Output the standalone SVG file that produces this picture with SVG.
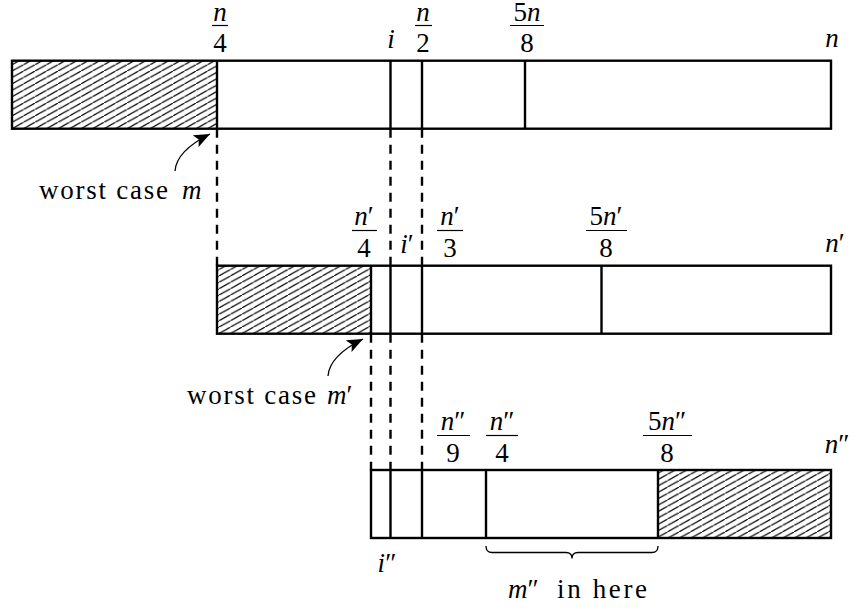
<svg xmlns="http://www.w3.org/2000/svg" width="854" height="609" viewBox="0 0 854 609">
<style>
.bar{fill:none;stroke:#000;stroke-width:2.4}
.hatch{fill:url(#hatch);stroke:none}
.div{stroke:#000;stroke-width:2.4}
.dash{stroke:#000;stroke-width:2.4;stroke-dasharray:9 7}
.fbar{stroke:#000;stroke-width:1.2}
text{font-family:"Liberation Serif","Times New Roman",serif;font-size:27px;fill:#000}
.it{font-style:italic}
.rm{font-style:normal}
.c{text-anchor:middle}
.arr{fill:none;stroke:#000;stroke-width:1.3}
</style>
<defs>
<pattern id="hatch" patternUnits="userSpaceOnUse" x="12" y="0.7" width="11.5" height="6.4">
<line x1="-2" y1="7.513" x2="13.5" y2="-1.113" stroke="#000" stroke-width="1.2"/>
</pattern>
<marker id="ah" markerUnits="userSpaceOnUse" markerWidth="17" markerHeight="13" refX="16" refY="6.5" orient="auto">
<path d="M0,0 L16,6.5 L0,13 L3.5,6.5 Z" fill="#000"/>
</marker>
</defs>

<g id="bar-top">
<rect class="hatch" x="12" y="60.7" width="205" height="68"/>
<rect class="bar" x="12" y="60.7" width="819" height="68"/>
<line class="div" x1="217" y1="60.7" x2="217" y2="128.7"/>
<line class="div" x1="390.5" y1="60.7" x2="390.5" y2="128.7"/>
<line class="div" x1="422" y1="60.7" x2="422" y2="128.7"/>
<line class="div" x1="525" y1="60.7" x2="525" y2="128.7"/>
<text class="it c" x="220" y="20.5">n</text>
<line class="fbar" x1="212" y1="25.5" x2="228" y2="25.5"/>
<text class="c" x="220" y="52">4</text>
<text class="it c" x="391" y="48">i</text>
<text class="it c" x="423" y="20.5">n</text>
<line class="fbar" x1="415" y1="25.5" x2="432" y2="25.5"/>
<text class="c" x="423" y="52">2</text>
<text class="c" x="527" y="20.5">5<tspan class="it">n</tspan></text>
<line class="fbar" x1="510" y1="25.5" x2="544" y2="25.5"/>
<text class="c" x="527" y="52">8</text>
<text class="it c" x="832" y="47">n</text>
</g>

<g id="bar-middle">
<rect class="hatch" x="217" y="265.7" width="154" height="68"/>
<rect class="bar" x="217" y="265.7" width="614" height="68"/>
<line class="div" x1="371" y1="265.7" x2="371" y2="333.7"/>
<line class="div" x1="390.5" y1="265.7" x2="390.5" y2="333.7"/>
<line class="div" x1="422" y1="265.7" x2="422" y2="333.7"/>
<line class="div" x1="601.5" y1="265.7" x2="601.5" y2="333.7"/>
<text class="it c" x="364" y="225">n<tspan class="rm">′</tspan></text>
<line class="fbar" x1="352" y1="230.5" x2="377" y2="230.5"/>
<text class="c" x="364" y="257">4</text>
<text class="it c" x="407" y="253">i<tspan class="rm">′</tspan></text>
<text class="it c" x="450" y="225">n<tspan class="rm">′</tspan></text>
<line class="fbar" x1="437" y1="230.5" x2="463" y2="230.5"/>
<text class="c" x="450" y="257">3</text>
<text class="c" x="606" y="225">5<tspan class="it">n</tspan>′</text>
<line class="fbar" x1="586" y1="230.5" x2="627" y2="230.5"/>
<text class="c" x="606" y="257">8</text>
<text class="it c" x="835" y="252">n<tspan class="rm">′</tspan></text>
</g>

<g id="bar-bottom">
<rect class="hatch" x="658" y="470" width="173" height="68"/>
<rect class="bar" x="371" y="470" width="460" height="68"/>
<line class="div" x1="390.5" y1="470" x2="390.5" y2="538"/>
<line class="div" x1="422" y1="470" x2="422" y2="538"/>
<line class="div" x1="486" y1="470" x2="486" y2="538"/>
<line class="div" x1="658" y1="470" x2="658" y2="538"/>
<text class="it c" x="453" y="430">n<tspan class="rm">″</tspan></text>
<line class="fbar" x1="437" y1="435.5" x2="470" y2="435.5"/>
<text class="c" x="453" y="462">9</text>
<text class="it c" x="502" y="430">n<tspan class="rm">″</tspan></text>
<line class="fbar" x1="486" y1="435.5" x2="518" y2="435.5"/>
<text class="c" x="502" y="462">4</text>
<text class="c" x="667" y="430">5<tspan class="it">n</tspan>″</text>
<line class="fbar" x1="643" y1="435.5" x2="692" y2="435.5"/>
<text class="c" x="667" y="462">8</text>
<text class="it c" x="837" y="453">n<tspan class="rm">″</tspan></text>
<text class="it c" x="387" y="572">i<tspan class="rm">″</tspan></text>
</g>

<g id="label-m">
<text x="39" y="199" textLength="129" lengthAdjust="spacing">worst case</text>
<text class="it" x="182" y="199">m</text>
</g>
<g id="label-m1">
<text x="187" y="404" textLength="129" lengthAdjust="spacing">worst case</text>
<text class="it" x="327" y="404">m<tspan class="rm">′</tspan></text>
</g>
<g id="label-m2">
<text class="it" x="508" y="598">m<tspan class="rm">″</tspan></text>
<text x="557" y="598" textLength="90" lengthAdjust="spacing">in here</text>
</g>

<g id="connectors">
<line class="dash" x1="217" y1="128.7" x2="217" y2="265.7"/>
<line class="dash" x1="390.5" y1="128.7" x2="390.5" y2="265.7"/>
<line class="dash" x1="422" y1="128.7" x2="422" y2="265.7"/>
<line class="dash" x1="371" y1="333.7" x2="371" y2="470"/>
<line class="dash" x1="390.5" y1="333.7" x2="390.5" y2="470"/>
<line class="dash" x1="422" y1="333.7" x2="422" y2="470"/>
<path class="arr" d="M175,171 C176,157 190,144 210,134" marker-end="url(#ah)"/>
<path class="arr" d="M328,376 C329,362 343,349 363,339" marker-end="url(#ah)"/>
<path class="arr" stroke-width="2.4" d="M486,546 Q486,552.5 492,552.5 L566,552.5 Q572,552.5 572,558.5 Q572,552.5 578,552.5 L652,552.5 Q658,552.5 658,546"/>
</g>
</svg>
